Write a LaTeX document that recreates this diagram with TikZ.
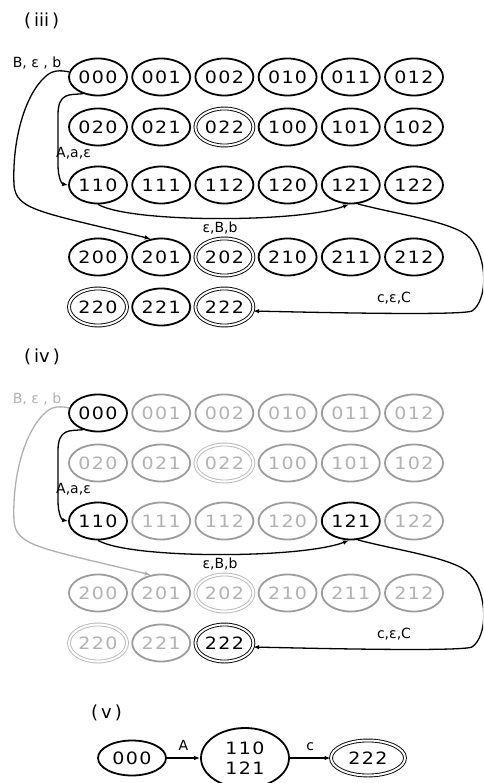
\documentclass[tikz,border=0pt]{standalone}
\usepackage{fontspec}
\setmainfont{DejaVu Sans}
\newfontfamily\digitfont[FakeStretch=1.12,LetterSpace=8]{DejaVu Sans}
\usetikzlibrary{shapes.geometric,arrows.meta}
\definecolor{gstroke}{HTML}{9C9C9C}
\definecolor{gtext}{HTML}{B2B2B2}
\definecolor{gdouble}{HTML}{B8B8B8}
\tikzset{
  st/.style={ellipse, draw, line width=1.8pt, minimum width=58pt, minimum height=37pt,
    inner sep=0pt, font=\digitfont\fontsize{17}{20}\selectfont},
  ac/.style={st, double, line width=0.9pt, double distance=2pt},
  gst/.style={st, draw=gstroke, text=gtext},
  gac/.style={ac, draw=gdouble, text=gtext},
  edge/.style={line width=1.3pt, -{Latex[length=6pt,width=4.5pt]}},
  lab/.style={font=\fontsize{14}{16}\selectfont, inner sep=0pt},
  sec/.style={font=\fontsize{18}{20}\selectfont, inner sep=0pt, anchor=west},
}
\newcommand{\alledges}[3]{%
  \draw[edge,#2] (#1000.170) .. controls (60,70) and (52,70) .. (45,77)
     .. controls (25,95) and (12,140) .. (14,185)
     .. controls (16,210) and (40,212) .. (#1201.120);
  \node[lab,text=#3] (#1l1) at (37,63) {B, ε , b};
  \draw[edge] (#1000.228) .. controls (70,95) and (58,92) .. (58,115)
     -- (58,165) .. controls (58,178) and (62,184) .. (#1110.west);
  \node[lab,anchor=west] (#1l2) at (56,153) {A,a,ε};
  \draw[edge] (#1110.south) .. controls (130,223) and (300,223) .. (#1121.265);
  \node[lab] (#1l3) at (220,228) {ε,B,b};
  \draw[edge] (#1121.290) .. controls (400,215) and (455,222) .. (470,238)
     .. controls (488,258) and (488,300) .. (472,311)
     .. controls (460,316) and (300,312) .. (#1222.352);
  \node[lab] (#1l4) at (394,298) {c,ε,C};
}
\begin{document}
\begin{tikzpicture}[x=1pt,y=-1pt]
\clip (0,0) rectangle (483,783);
\fill[white] (0,0) rectangle (483,783);
% (iii)
\node[sec] (s3) at (24,21) {(\,iii\,)};
\foreach \n/\c/\r/\s in {000/0/0/st,001/1/0/st,002/2/0/st,010/3/0/st,011/4/0/st,012/5/0/st,
  020/0/1/st,021/1/1/st,022/2/1/ac,100/3/1/st,101/4/1/st,102/5/1/st,
  110/0/2/st,111/1/2/st,112/2/2/st,120/3/2/st,121/4/2/st,122/5/2/st,
  200/0/3/st,201/1/3/st,202/2/3/ac,210/3/3/st,211/4/3/st,212/5/3/st,
  220/0/4/ac,221/1/4/st,222/2/4/ac}{
  \pgfmathsetmacro\yy{{77,127,185,257,307}[\r]}
  \node[\s] (a\n) at ({98+63.2*\c},\yy) {\n};
}
\alledges{a}{black}{black}
% (iv)
\node[sec] (s4) at (24,357) {(\,iv\,)};
\foreach \n/\c/\r/\s in {000/0/0/st,001/1/0/gst,002/2/0/gst,010/3/0/gst,011/4/0/gst,012/5/0/gst,
  020/0/1/gst,021/1/1/gst,022/2/1/gac,100/3/1/gst,101/4/1/gst,102/5/1/gst,
  110/0/2/st,111/1/2/gst,112/2/2/gst,120/3/2/gst,121/4/2/st,122/5/2/gst,
  200/0/3/gst,201/1/3/gst,202/2/3/gac,210/3/3/gst,211/4/3/gst,212/5/3/gst,
  220/0/4/gac,221/1/4/gst,222/2/4/ac}{
  \pgfmathsetmacro\yy{{77,127,185,257,307}[\r]+336}
  \node[\s] (b\n) at ({98+63.2*\c},\yy) {\n};
}
\begin{scope}[yshift=-336pt]
\alledges{b}{gstroke!80}{gtext}
\end{scope}
% (v)
\node[sec] (s5) at (91,713) {(\,v\,)};
\node[st, minimum width=68pt, minimum height=35pt] (v000) at (132,758) {000};
\node[st, minimum width=88pt, minimum height=60pt, align=center,
  font=\digitfont\fontsize{17}{20}\selectfont] (vmid) at (245,758) {110\\121};
\node[ac, minimum width=74pt, minimum height=35pt] (v222) at (368,758) {222};
\draw[edge] (v000) -- (vmid) node[lab, midway, above=7pt] (vA) {A};
\draw[edge] (vmid) -- (v222) node[lab, midway, above=7pt] (vc) {c};
\end{tikzpicture}
\end{document}
